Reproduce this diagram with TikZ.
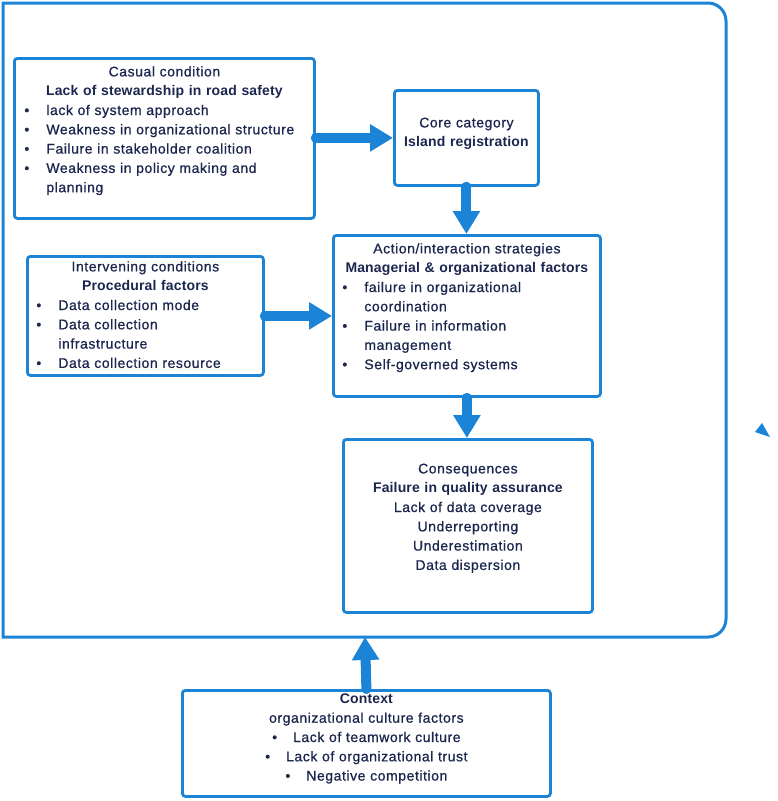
\documentclass[tikz,border=0pt]{standalone}
\usepackage{fontspec}
\setmainfont{Liberation Sans}[LetterSpace=4, FakeBold=0.8]
\newfontfamily\headfont{Liberation Sans}[LetterSpace=1]
\usetikzlibrary{arrows.meta}

\definecolor{lineblue}{RGB}{28,132,214}
\definecolor{inkblue}{RGB}{26,38,78}

\newcommand{\hd}[1]{{\headfont\bfseries #1}}
\newcommand{\bitem}{\par\noindent\hangindent=22pt\hangafter=1\makebox[22pt][l]{\textbullet}}
\newcommand{\cbul}{\textbullet\hspace{16pt}}

\begin{document}
\begin{tikzpicture}[
    x=1pt, y=1pt,
    box/.style={draw=lineblue, line width=2.8pt, rounded corners=3pt, anchor=north west,
        inner ysep=0pt, text=inkblue, font=\fontsize{14}{19.3}\selectfont},
    flow/.style={draw=lineblue, line width=10pt, line cap=round, -{Triangle[width=26pt,length=23pt]}}
]
    \useasboundingbox (0,0) rectangle (777,-801);

    % Outer frame
    \draw[lineblue, line width=3pt] (3,-3) -- (708,-3) arc[start angle=90, end angle=0, radius=18]
        -- (726,-619) arc[start angle=0, end angle=-90, radius=18] -- (3,-637) -- cycle;
    \coordinate (framebot) at (365,-637);

    % Nodes
    \node[box, inner xsep=10pt, text width=280pt, text height=18pt, text depth=142pt] (casual) at (13,-57) {%
        {\centering Casual condition\\ \hd{Lack of stewardship in road safety}\par}
        \raggedright
        \bitem lack of system approach
        \bitem Weakness in organizational structure
        \bitem Failure in stakeholder coalition
        \bitem Weakness in policy making and\newline planning\par};

    \node[box, align=center, inner xsep=6pt, text width=132pt, text height=37pt, text depth=58pt] (core) at (393,-89)
        {Core category\\ \hd{Island registration}};

    \node[box, inner xsep=9pt, text width=249pt, text height=18pt, text depth=143pt] (action) at (332,-234) {%
        {\centering Action/interaction strategies\\ \hd{Managerial \& organizational factors}\par}
        \raggedright
        \bitem failure in organizational\newline coordination
        \bitem Failure in information\newline management
        \bitem Self-governed systems\par};

    \node[box, inner xsep=9pt, text width=218pt, text height=15pt, text depth=104pt] (interv) at (26,-255) {%
        {\centering Intervening conditions\\ \hd{Procedural factors}\par}
        \raggedright
        \bitem Data collection mode
        \bitem Data collection\newline infrastructure
        \bitem Data collection resource\par};

    \node[box, align=center, inner xsep=6pt, text width=237pt, text height=34pt, text depth=139pt] (conseq) at (342,-438)
        {Consequences\\ \hd{Failure in quality assurance}\\ Lack of data coverage\\ Underreporting\\ Underestimation\\ Data dispersion};

    \node[box, align=center, inner xsep=6pt, text width=356pt, text height=13pt, text depth=93pt] (context) at (181,-689)
        {\hd{Context}\\ organizational culture factors\\ \cbul Lack of teamwork culture\\ \cbul Lack of organizational trust\\ \cbul Negative competition};

    % Arrows
    \draw[flow] (casual.east |- core.west) -- (core.west);
    \draw[flow] (core.south) -- (core.south |- action.north);
    \draw[flow] (interv.east) -- (interv.east -| action.west);
    \draw[flow] (action.south) -- (action.south |- conseq.north);
    \draw[flow] (context.north) -- (framebot);

    % stray mark
    \fill[lineblue] (755,-432) -- (762,-423) -- (770,-437) -- cycle;
\end{tikzpicture}
\end{document}
